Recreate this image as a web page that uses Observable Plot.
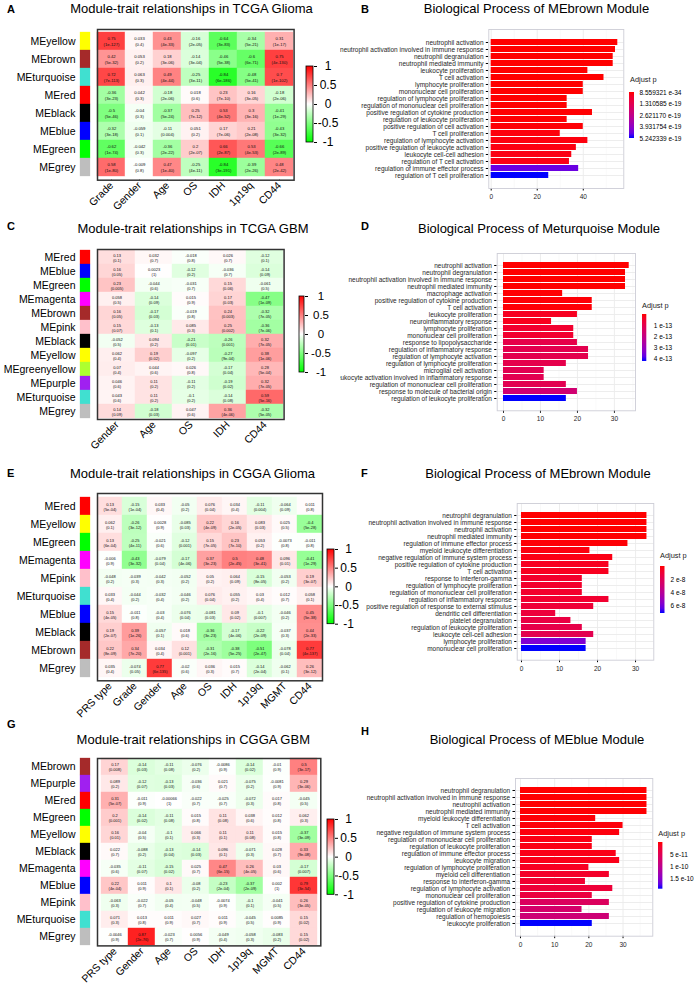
<!DOCTYPE html>
<html>
<head>
<meta charset="utf-8">
<script src="https://cdn.jsdelivr.net/npm/d3@7"></script>
<script src="https://cdn.jsdelivr.net/npm/@observablehq/plot@0.6"></script>
<style>
html,body{margin:0;padding:0;background:#fff;}
#root{position:relative;width:694px;height:991px;overflow:hidden;background:#fff;font-family:"Liberation Sans",Arial,Helvetica,sans-serif;}
</style>
</head>
<body>
<svg width="0" height="0" style="position:absolute;left:0;top:0"><defs>
<linearGradient id="gwr" x1="0" y1="1" x2="0" y2="0"><stop offset="0" stop-color="#00ff00"/><stop offset="0.5" stop-color="#ffffff"/><stop offset="1" stop-color="#ff0000"/></linearGradient>
<linearGradient id="grb" x1="0" y1="0" x2="0" y2="1"></linearGradient>
</defs></svg>
<div id="root"></div>
<script>
// ---------------- DATA ----------------
const panelLetters = ["A","B","C","D","E","F","G","H"];
const panelTitles = [
  "Module-trait relationships in TCGA Glioma","Biological Process of MEbrown Module",
  "Module-trait relationships in TCGA GBM","Biological Process of Meturquoise Module",
  "Module-trait relationships in CGGA Glioma","Biological Process of MEbrown Module",
  "Module-trait relationships in CGGA GBM","Biological Process of MEblue Module"];

const heatLegendTicks = [-1, -0.5, 0, 0.5, 1];

// A: TCGA Glioma
const modulesA = ["MEyellow","MEbrown","MEturquoise","MEred","MEblack","MEblue","MEgreen","MEgrey"];
const traitsA = ["Grade","Gender","Age","OS","IDH","1p19q","CD44"];
const corA = [
 [0.75,0.033,0.43,-0.16,-0.64,-0.34,0.31],
 [0.42,0.053,0.18,-0.14,-0.46,-0.6,0.75],
 [0.72,0.063,0.49,-0.25,-0.84,-0.48,0.7],
 [-0.36,0.042,-0.18,0.018,0.23,0.16,-0.18],
 [-0.5,-0.04,-0.37,0.25,0.53,0.3,-0.41],
 [-0.32,-0.059,-0.11,0.051,0.17,0.21,-0.43],
 [-0.62,-0.042,-0.36,0.2,0.66,0.53,-0.66],
 [0.58,-0.009,0.47,-0.25,-0.84,-0.39,0.48]];
const pA = [
 ["1e-127","0.4","4e-33","2e-05","3e-83","5e-21","1e-17"],
 ["5e-32","0.2","3e-06","3e-04","5e-38","6e-71","4e-130"],
 ["7e-113","0.3","4e-44","3e-11","6e-186","5e-41","1e-102"],
 ["3e-23","0.3","2e-06","0.6","7e-10","3e-05","2e-06"],
 ["5e-46","0.3","5e-24","7e-12","4e-52","3e-16","1e-29"],
 ["3e-18","0.1","0.004","0.2","7e-06","2e-08","3e-32"],
 ["1e-74","0.3","2e-22","2e-07","2e-87","4e-53","2e-89"],
 ["1e-80","0.8","1e-40","4e-11","3e-191","2e-26","2e-42"]];

// C: TCGA GBM
const modulesC = ["MEred","MEblue","MEgreen","MEmagenta","MEbrown","MEpink","MEblack","MEyellow","MEgreenyellow","MEpurple","MEturquoise","MEgrey"];
const traitsC = ["Gender","Age","OS","IDH","CD44"];
const corC = [
 [0.13,0.032,-0.018,0.026,-0.12],
 [0.16,0.0023,-0.12,-0.036,-0.14],
 [0.23,-0.044,-0.031,0.15,-0.061],
 [0.058,-0.14,0.015,0.17,-0.47],
 [0.16,-0.17,-0.019,0.24,-0.32],
 [0.15,-0.13,0.085,0.25,-0.36],
 [-0.052,0.094,-0.21,-0.26,0.32],
 [0.062,0.19,-0.097,-0.27,0.38],
 [0.07,0.044,0.026,-0.17,0.28],
 [0.046,0.11,-0.11,-0.19,0.32],
 [0.043,0.11,-0.1,-0.14,0.59],
 [0.14,-0.18,0.047,0.36,-0.32]];
const pC = [
 ["0.1","0.7","0.8","0.7","0.1"],
 ["0.05","1","0.2","0.7","0.09"],
 ["0.005","0.6","0.7","0.06","0.5"],
 ["0.5","0.09","0.9","0.03","1e-09"],
 ["0.05","0.03","0.8","0.003","7e-05"],
 ["0.07","0.1","0.3","0.002","7e-06"],
 ["0.5","0.2","0.01","0.001","7e-05"],
 ["0.4","0.02","0.2","9e-04","1e-06"],
 ["0.4","0.6","0.8","0.04","5e-04"],
 ["0.6","0.2","0.2","0.02","7e-05"],
 ["0.6","0.2","0.2","0.08","5e-16"],
 ["0.09","0.03","0.6","4e-06","5e-05"]];

// E: CGGA Glioma
const modulesE = ["MEred","MEyellow","MEgreen","MEmagenta","MEpink","MEturquoise","MEblue","MEblack","MEbrown","MEgrey"];
const traitsE = ["PRS type","Grade","Gender","Age","OS","IDH","1p19q","MGMT","CD44"];
const corE = [
 [0.13,-0.15,0.033,-0.05,0.076,0.034,-0.11,-0.064,0.011],
 [0.062,-0.26,0.0028,-0.085,0.22,0.16,0.083,0.025,-0.4],
 [0.13,-0.25,-0.021,-0.12,0.15,0.23,0.053,-0.0073,-0.011],
 [-0.006,-0.43,-0.079,-0.17,0.37,0.5,0.48,0.096,-0.41],
 [-0.048,-0.039,-0.042,-0.052,0.05,0.064,-0.15,-0.053,0.19],
 [0.033,-0.044,-0.032,-0.046,0.076,0.055,0.03,0.012,0.058],
 [0.15,-0.011,-0.03,-0.076,-0.081,0.09,-0.1,-0.046,0.45],
 [0.19,0.39,-0.057,0.018,-0.36,-0.17,-0.22,-0.037,0.44],
 [0.22,0.34,0.034,0.12,-0.31,-0.38,-0.51,-0.078,0.77],
 [0.035,-0.074,0.77,-0.02,0.036,0.015,-0.14,-0.062,0.26]];
const pE = [
 ["5e-04","1e-04","0.4","0.2","0.04","0.4","0.004","0.09","0.8"],
 ["0.1","3e-12","0.9","0.03","4e-09","2e-05","0.03","0.5","5e-28"],
 ["6e-04","4e-11","0.6","0.001","7e-05","7e-10","0.2","0.8","0.8"],
 ["0.9","3e-32","0.04","4e-06","3e-23","2e-45","3e-41","0.01","1e-29"],
 ["0.2","0.3","0.3","0.2","0.2","0.09","8e-05","0.2","3e-07"],
 ["0.4","0.2","0.4","0.2","0.04","0.2","0.4","0.7","0.1"],
 ["4e-05","0.8","0.4","0.04","0.03","0.02","0.007","0.2","5e-38"],
 ["2e-07","1e-26","0.1","0.6","3e-23","4e-06","2e-09","0.3","2e-33"],
 ["8e-09","7e-20","0.4","0.001","2e-16","5e-25","2e-47","0.04","4e-137"],
 ["0.4","0.05","6e-135","0.6","0.3","0.7","2e-04","0.1","3e-12"]];

// G: CGGA GBM
const modulesG = ["MEbrown","MEpurple","MEred","MEgreen","MEyellow","MEblack","MEmagenta","MEblue","MEpink","MEturquoise","MEgrey"];
const traitsG = ["PRS type","Gender","Age","OS","IDH","1p19q","MGMT","CD44"];
const corG = [
 [0.17,-0.14,-0.11,-0.076,-0.0086,-0.14,-0.01,0.5],
 [0.089,-0.12,-0.13,-0.036,0.021,-0.075,-0.0081,0.29],
 [0.31,-0.011,-0.00066,-0.022,-0.025,-0.072,0.017,-0.045],
 [0.2,-0.14,-0.11,0.015,0.11,0.038,0.012,0.062],
 [0.16,-0.04,-0.1,0.066,0.11,0.11,0.015,-0.37],
 [0.022,-0.088,-0.13,-0.14,0.096,-0.071,0.028,0.33],
 [-0.035,-0.11,-0.15,0.025,0.47,0.26,0.03,-0.17],
 [0.22,0.011,0.1,-0.08,-0.23,-0.37,0.002,0.79],
 [-0.063,-0.022,-0.05,-0.048,-0.0074,-0.1,-0.041,0.26],
 [0.071,0.013,0.011,0.027,0.011,-0.045,0.0085,0.15],
 [-0.0046,0.87,-0.023,0.0056,-0.049,-0.058,-0.083,0.15]];
const pG = [
 ["0.008","0.03","0.08","0.2","0.9","0.02","0.9","3e-17"],
 ["0.2","0.07","0.03","0.6","0.7","0.2","0.9","3e-06"],
 ["5e-07","0.9","1","0.7","0.7","0.3","0.8","0.5"],
 ["0.001","0.02","0.08","0.8","0.08","0.6","0.8","0.3"],
 ["0.01","0.5","0.1","0.3","0.1","0.08","0.8","3e-09"],
 ["0.7","0.2","0.04","0.03","0.1","0.3","0.7","9e-08"],
 ["0.6","0.07","0.02","0.7","6e-15","4e-05","0.6","0.007"],
 ["4e-04","0.9","0.1","0.2","2e-04","2e-09","1","3e-54"],
 ["0.3","0.7","0.4","0.5","0.9","0.1","0.5","3e-05"],
 ["0.3","0.8","0.9","0.7","0.9","0.5","0.9","0.02"],
 ["0.9","2e-76","0.7","0.9","0.4","0.3","0.2","0.02"]];

// B: MEbrown (TCGA)
const termsB = ["neutrophil activation","neutrophil activation involved in immune response","neutrophil degranulation","neutrophil mediated immunity","leukocyte proliferation","T cell activation","lymphocyte proliferation","mononuclear cell proliferation","regulation of lymphocyte proliferation","regulation of mononuclear cell proliferation","positive regulation of cytokine production","regulation of leukocyte proliferation","positive regulation of cell activation","T cell proliferation","regulation of lymphocyte activation","positive regulation of leukocyte activation","leukocyte cell-cell adhesion","regulation of T cell activation","regulation of immune effector process","regulation of T cell proliferation"];
const countsB = [55,54,53,53,42,49,40,40,33,33,44,33,40,30,42,37,35,34,38,25];
const padjB = [8.559321e-34,1e-33,2e-33,2e-33,3e-26,1e-25,2e-23,2e-23,1e-21,1e-21,2e-21,3e-21,5e-21,1e-20,1.2e-20,1.5e-20,1.8e-20,2e-20,4.6e-19,5.242339e-19];
const legendTicksB = [8.559321e-34,1.310585e-19,2.621170e-19,3.931754e-19,5.242339e-19];
const legendLabelsB = ["8.559321 e-34","1.310585 e-19","2.621170 e-19","3.931754 e-19","5.242339 e-19"];

// D: MEturquoise (TCGA GBM)
const termsD = ["neutrophil activation","neutrophil degranulation","neutrophil activation involved in immune response","neutrophil mediated immunity","macrophage activation","positive regulation of cytokine production","T cell activation","leukocyte proliferation","neuroinflammatory response","lymphocyte proliferation","mononuclear cell proliferation","response to lipopolysaccharide","regulation of inflammatory response","regulation of lymphocyte activation","regulation of lymphocyte proliferation","microglial cell activation","leukocyte activation involved in inflammatory response","regulation of mononuclear cell proliferation","response to molecule of bacterial origin","regulation of leukocyte proliferation"];
const countsD = [34,33,33,33,16,24,24,20,13,19,19,20,23,23,17,11,11,17,20,17];
const padjD = [1e-16,2e-16,2e-16,3e-16,2e-15,5e-15,5e-15,3e-14,2.5e-14,5e-14,5e-14,9.5e-14,1.05e-13,1.05e-13,1e-13,1.1e-13,1.1e-13,1.1e-13,1.7e-13,4.27e-13];
const legendTicksD = [1e-13,2e-13,3e-13,4e-13];
const legendLabelsD = ["1 e-13","2 e-13","3 e-13","4 e-13"];

// F: MEbrown (CGGA)
const termsF = ["neutrophil degranulation","neutrophil activation involved in immune response","neutrophil activation","neutrophil mediated immunity","regulation of immune effector process","myeloid leukocyte differentiation","negative regulation of immune system process","positive regulation of cytokine production","T cell activation","response to interferon-gamma","regulation of lymphocyte proliferation","regulation of mononuclear cell proliferation","regulation of inflammatory response","positive regulation of response to external stimulus","dendritic cell differentiation","platelet degranulation","regulation of leukocyte proliferation","leukocyte cell-cell adhesion","lymphocyte proliferation","mononuclear cell proliferation"];
const countsF = [33,33,33,33,28,18,24,23,23,16,16,16,23,19,9,13,16,19,17,17];
const padjF = [3e-10,4e-10,4e-10,5e-10,1e-9,2e-9,3e-9,5e-9,5e-9,8e-9,8e-9,8e-9,9e-9,1.1e-8,1.2e-8,1.4e-8,1.6e-8,1.8e-8,5.8e-8,7.15e-8];
const legendTicksF = [2e-8,4e-8,6e-8];
const legendLabelsF = ["2 e-8","4 e-8","6 e-8"];

// H: MEblue (CGGA GBM)
const termsH = ["neutrophil degranulation","neutrophil activation involved in immune response","neutrophil activation","neutrophil mediated immunity","myeloid leukocyte differentiation","T cell activation","negative regulation of immune system process","regulation of mononuclear cell proliferation","regulation of leukocyte proliferation","regulation of immune effector process","leukocyte migration","regulation of lymphocyte proliferation","myeloid cell differentiation","response to interferon-gamma","regulation of lymphocyte activation","mononuclear cell proliferation","positive regulation of cytokine production","regulation of leukocyte migration","regulation of hemopoiesis","leukocyte proliferation"];
const countsH = [37,37,37,37,22,30,29,21,21,28,29,20,26,19,27,21,26,18,26,21];
const padjH = [1e-12,1.5e-12,1.5e-12,2e-12,3e-12,4e-12,5e-12,8e-12,8e-12,9e-12,1e-11,1.5e-11,2e-11,2.5e-11,3e-11,3.5e-11,6e-11,7e-11,8e-11,1.9e-10];
const legendTicksH = [5e-11,1e-10,1.5e-10];
const legendLabelsH = ["5 e-11","1 e-10","1.5 e-10"];

// ---------------- STYLE / LAYOUT ----------------
const FONT = '"Liberation Sans", Arial, Helvetica, sans-serif';
const MODCOL = {MEyellow:"#ffff00",MEbrown:"#a52a2a",MEturquoise:"#40e0d0",MEred:"#ff0000",MEblack:"#000000",MEblue:"#0000ff",MEgreen:"#00ff00",MEgrey:"#bebebe",MEmagenta:"#ff00ff",MEpink:"#ffc0cb",MEgreenyellow:"#adff2f",MEpurple:"#a020f0"};
const root = document.getElementById("root");

// red->blue (Lab) gradient stops for p-value colorbars
const grb = document.getElementById("grb");
const labInt = d3.interpolateLab("#ff0000","#0000ff");
for (let k = 0; k <= 10; k++) {
  const s = document.createElementNS("http://www.w3.org/2000/svg","stop");
  s.setAttribute("offset", k/10); s.setAttribute("stop-color", labInt(k/10));
  grb.appendChild(s);
}

function place(node, x, y) {
  node.style.position = "absolute"; node.style.left = x + "px"; node.style.top = y + "px";
  root.appendChild(node); return node;
}
function htmlText(txt, x, baseline, size, opts = {}) {
  const d = document.createElement("div");
  d.textContent = txt;
  d.style.cssText = `white-space:nowrap;font-size:${size}px;line-height:${size}px;font-family:${FONT};color:${opts.color||"#000"};${opts.bold?"font-weight:bold;":""}${opts.center?"transform:translateX(-50%);":""}`;
  place(d, x, baseline - 0.8465*size);
}
function baseStyle(fs, overflow) {
  return {fontFamily: FONT, fontSize: fs + "px", background: "transparent", overflow: overflow, maxWidth: "none", color: "#000"};
}

const letterPos = [[7,13.5],[361,13.5],[7,230],[361,230],[7,477],[361,477],[7,728],[361,735]];
const titlePos = [[191.5,13.5],[536.5,13.5],[193,233],[539,233],[192.5,478],[538,478],[193.3,744],[537,744]];

const heatCfgs = [
  {modules:modulesA,traits:traitsA,cor:corA,p:pA,box:[96.7,29.3,293.3,180],lbox:[305.5,65.7,312.5,141.7],lcx:327,lfs:12,fs:4.2},
  {modules:modulesC,traits:traitsC,cor:corC,p:pC,box:[96.7,249,283.3,419],lbox:[299,295.7,304,371.7],lcx:320.5,lfs:11.5,fs:4},
  {modules:modulesE,traits:traitsE,cor:corE,p:pE,box:[96.7,492.7,321.7,680],lbox:[327,549.3,334,624],lcx:348,lfs:12,fs:4},
  {modules:modulesG,traits:traitsG,cor:corG,p:pG,box:[96.7,758.3,320,945.7],lbox:[327,819,334,894.3],lcx:348,lfs:12,fs:4}
];
const barCfgs = [
  {terms:termsB,counts:countsB,padj:padjB,frame:[488.3,29.3,623.3,188.3],xdom:[-1.04,57.6],major:[0,20,40],minor:[10,30,50],
   pdom:[8.559321e-34,5.242339e-19],lticks:legendTicksB,llabels:legendLabelsB,lbar:[629.3,91.7,634.3,137.7],lgap:5,ltitle:[630,82.6]},
  {terms:termsD,counts:countsD,padj:padjD,frame:[496.7,252.7,635,410],xdom:[-1.7,35.7],major:[0,10,20,30],minor:[5,15,25,35],
   pdom:[1e-16,4.27e-13],lticks:legendTicksD,llabels:legendLabelsD,lbar:[641.7,314,646,361],lgap:7,ltitle:[642,308.6]},
  {terms:termsF,counts:countsF,padj:padjF,frame:[516.7,503.3,653.3,660],xdom:[-1.13,34.8],major:[0,10,20,30],minor:[5,15,25],
   pdom:[3e-10,7.15e-8],lticks:legendTicksF,llabels:legendLabelsF,lbar:[660,566,664.5,613],lgap:5.5,ltitle:[660,558.6]},
  {terms:termsH,counts:countsH,padj:padjH,frame:[515,778.3,652.3,936],xdom:[-1.46,38.7],major:[0,10,20,30],minor:[5,15,25,35],
   pdom:[1e-12,1.9e-10],lticks:legendTicksH,llabels:legendLabelsH,lbar:[658.3,842.3,662.7,889],lgap:7,ltitle:[658.3,835.9]}
];

// ---------------- HEATMAP PANELS ----------------
function heatPanel(c) {
  const cells = [];
  c.modules.forEach((m, i) => c.traits.forEach((t, j) => cells.push({m, t, r: c.cor[i][j], p: c.p[i][j]})));
  const [x1, y1, x2, y2] = c.box;
  const W = x2 - x1, H = y2 - y1, m = 2, mb = 60;
  const heat = Plot.plot({
    width: W + 2*m, height: H + m + mb, marginTop: m, marginLeft: m, marginRight: m, marginBottom: mb,
    style: baseStyle(10.5, "visible"),
    x: {domain: c.traits, padding: 0, label: null, tickRotate: -45, tickSize: 0.5, tickPadding: 3},
    y: {domain: c.modules, padding: 0, axis: null},
    color: {type: "linear", domain: [-1, 0, 1], range: ["#00ff00", "#ffffff", "#ff0000"]},
    marks: [
      Plot.cell(cells, {x: "t", y: "m", fill: "r", stroke: "r", strokeWidth: 0.4, inset: 0}),
      Plot.text(cells, {x: "t", y: "m", text: d => String(d.r) + "\n(" + d.p + ")", fontSize: c.fs, lineHeight: 1.35, fill: "#111"}),
      Plot.frame({stroke: "#333", strokeWidth: 1.5})
    ]
  });
  place(heat, x1 - m, y1 - m);

  // module colour strip + row labels
  const strip = Plot.plot({
    width: 91, height: H + 2*m, marginTop: m, marginBottom: m, marginLeft: 80, marginRight: 1,
    style: baseStyle(10.5, "visible"),
    x: {domain: ["s"], padding: 0, axis: null},
    y: {domain: c.modules, padding: 0, tickSize: 0, tickPadding: 5, label: null},
    color: {type: "identity"},
    marks: [Plot.cell(c.modules, {x: () => "s", y: d => d, fill: d => MODCOL[d], stroke: d => MODCOL[d], strokeWidth: 0.3, inset: 0})]
  });
  place(strip, 0, y1 - m);

  // colour bar legend
  const [lx1, ly1, lx2, ly2] = c.lbox, lm = 8;
  const lo = d3.min(heatLegendTicks), hi = d3.max(heatLegendTicks);
  const leg = Plot.plot({
    width: (lx2 - lx1) + 40, height: (ly2 - ly1) + 2*lm, marginLeft: 0, marginRight: 40, marginTop: lm, marginBottom: lm,
    style: baseStyle(c.lfs, "visible"),
    y: {domain: [lo, hi], axis: "right", ticks: heatLegendTicks, tickSize: 3, tickFormat: () => "", label: null},
    color: {type: "identity"},
    marks: [
      Plot.barY([{lo, hi}], {y1: "lo", y2: "hi", fill: () => "url(#gwr)", stroke: "#000", strokeWidth: 0.8}),
      Plot.text(heatLegendTicks, {y: d => d, text: d => String(d), frameAnchor: "right", dx: c.lcx - lx2, textAnchor: "middle", fill: "#000"})
    ]
  });
  place(leg, lx1, ly1 - lm);
}

// ---------------- BAR PANELS ----------------
function barPanel(c) {
  const data = c.terms.map((t, i) => ({t, n: c.counts[i], p: c.padj[i]}));
  const [fx1, fy1, fx2, fy2] = c.frame;
  const left = 340, mL = fx1 - left, mT = 2, mR = 2, mB = 16;
  const W = fx2 - fx1, H = fy2 - fy1;
  const P = Plot.plot({
    width: mL + W + mR, height: mT + H + mB, marginLeft: mL, marginTop: mT, marginRight: mR, marginBottom: mB,
    style: baseStyle(6.5, "hidden"),
    x: {domain: c.xdom, ticks: c.major, tickSize: 2.5, tickPadding: 3.5, label: null, tickFormat: d => String(d)},
    y: {domain: c.terms, paddingInner: 0.1, paddingOuter: 0.15, tickSize: 2.5, tickPadding: 2.8, label: null},
    color: {type: "linear", domain: c.pdom, range: ["#ff0000", "#0000ff"], interpolate: "lab"},
    marks: [
      Plot.ruleX(c.minor, {stroke: "#f3f3f3", strokeWidth: 0.5}),
      Plot.ruleX(c.major, {stroke: "#ebebeb", strokeWidth: 0.9}),
      Plot.ruleY(c.terms, {stroke: "#ebebeb", strokeWidth: 0.9}),
      Plot.barX(data, {x: "n", y: "t", fill: "p"}),
      Plot.frame({stroke: "#cdcdd6", strokeWidth: 0.9})
    ]
  });
  P.querySelectorAll('[aria-label^="x-axis"], [aria-label^="y-axis"]').forEach(g => g.setAttribute("fill", "#262626"));
  place(P, left, fy1 - mT);

  // p.adjust colour bar
  const [lx1, ly1, lx2, ly2] = c.lbar, lm = 4;
  const labelMap = new Map(c.lticks.map((v, i) => [v, c.llabels[i]]));
  const L = Plot.plot({
    width: (lx2 - lx1) + 60, height: (ly2 - ly1) + 2*lm, marginLeft: 0, marginRight: 60, marginTop: lm, marginBottom: lm,
    style: baseStyle(6.5, "visible"),
    y: {type: "linear", domain: c.pdom, reverse: true, axis: "right", ticks: c.lticks, tickSize: 0, tickPadding: c.lgap,
        tickFormat: d => labelMap.get(d), label: null},
    color: {type: "identity"},
    marks: [Plot.barY([{lo: c.pdom[0], hi: c.pdom[1]}], {y1: "lo", y2: "hi", fill: () => "url(#grb)"})]
  });
  place(L, lx1, ly1 - lm);
  htmlText("Adjust p", c.ltitle[0], c.ltitle[1], 7.4, {color: "#1a1a1a"});
}

heatCfgs.forEach(heatPanel);
barCfgs.forEach(barPanel);

panelLetters.forEach((L, i) => htmlText(L, letterPos[i][0], letterPos[i][1], 11, {bold: true}));
panelTitles.forEach((T, i) => htmlText(T, titlePos[i][0], titlePos[i][1], 13, {center: true}));
</script>
</body>
</html>
